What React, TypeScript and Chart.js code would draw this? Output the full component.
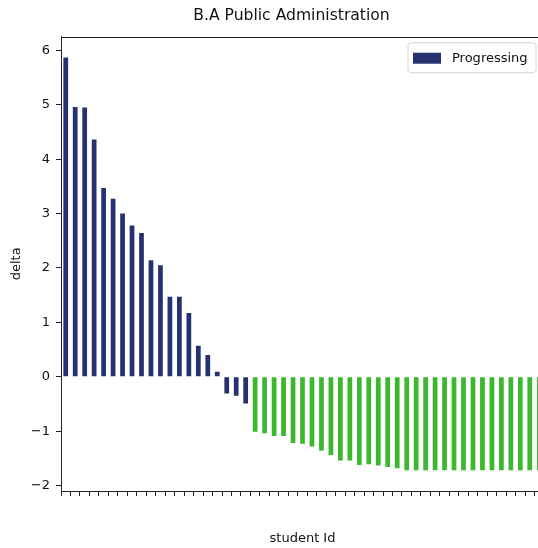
import React, { useEffect, useRef } from 'react';
import { Chart, registerables } from 'chart.js';

Chart.register(...registerables);

const studentIds = [
  '1', '2', '3', '4', '5', '6', '7', '8', '9', '10',
  '11', '12', '13', '14', '15', '16', '17', '18', '19', '20',
  '21', '22', '23', '24', '25', '26', '27', '28', '29', '30',
  '31', '32', '33', '34', '35', '36', '37', '38', '39', '40',
  '41', '42', '43', '44', '45', '46', '47', '48', '49', '50', '51',
];

const progressingDelta = [
  5.87, 4.96, 4.95, 4.36, 3.47, 3.27, 3.0, 2.78, 2.64, 2.14,
  2.05, 1.47, 1.47, 1.17, 0.57, 0.4, 0.09, -0.31, -0.35, -0.49,
];

const regressingDelta = [
  -1.01, -1.04, -1.09, -1.09, -1.22, -1.23, -1.28, -1.36, -1.44, -1.54,
  -1.54, -1.62, -1.61, -1.63, -1.66, -1.68, -1.72, -1.72, -1.72, -1.72,
  -1.72, -1.72, -1.72, -1.72, -1.72, -1.72, -1.72, -1.72, -1.72, -1.72, -1.72,
];

const yTickValues = [-2, -1, 0, 1, 2, 3, 4, 5, 6];

const chartTitle = 'B.A Public Administration';
const xAxisTitle = 'student Id';
const yAxisTitle = 'delta';
const legendLabel = 'Progressing';

const NAVY = '#26326f';
const GREEN = '#3cb82e';
const INK = '#111111';
const FONT = "'DejaVu Sans', 'Liberation Sans', sans-serif";

export default function App() {
  const ref = useRef<HTMLCanvasElement | null>(null);

  useEffect(() => {
    if (!ref.current) return;
    const values = [...progressingDelta, ...regressingDelta];
    const colors = values.map((_, i) => (i < progressingDelta.length ? NAVY : GREEN));

    const framePlugin = {
      id: 'frameAndLegend',
      afterDraw(chart: any) {
        const { ctx, chartArea: a } = chart;
        ctx.save();
        ctx.strokeStyle = '#222222';
        ctx.lineWidth = 1;
        const l = Math.round(a.left) + 0.5;
        const t = Math.round(a.top) + 0.5;
        ctx.strokeRect(l, t, Math.round(a.right - a.left), Math.round(a.bottom - a.top));

        // legend box (inside plot, upper right)
        const bw = 128;
        const bh = 30;
        const bx = a.right - 8 - bw;
        const by = a.top + 6;
        const r = 3;
        ctx.beginPath();
        ctx.moveTo(bx + r, by);
        ctx.lineTo(bx + bw - r, by);
        ctx.quadraticCurveTo(bx + bw, by, bx + bw, by + r);
        ctx.lineTo(bx + bw, by + bh - r);
        ctx.quadraticCurveTo(bx + bw, by + bh, bx + bw - r, by + bh);
        ctx.lineTo(bx + r, by + bh);
        ctx.quadraticCurveTo(bx, by + bh, bx, by + bh - r);
        ctx.lineTo(bx, by + r);
        ctx.quadraticCurveTo(bx, by, bx + r, by);
        ctx.closePath();
        ctx.fillStyle = 'rgba(255,255,255,0.8)';
        ctx.fill();
        ctx.strokeStyle = '#d6d6d6';
        ctx.stroke();

        ctx.fillStyle = NAVY;
        ctx.fillRect(bx + 5, by + 10, 28, 11);

        ctx.fillStyle = INK;
        ctx.font = `13px ${FONT}`;
        ctx.textAlign = 'left';
        ctx.textBaseline = 'middle';
        ctx.fillText(chart.data.datasets[0].label, bx + 44, by + 15.5);
        ctx.restore();
      },
    };

    const chart = new Chart(ref.current, {
      type: 'bar',
      data: {
        labels: studentIds,
        datasets: [
          {
            label: legendLabel,
            data: values,
            backgroundColor: colors,
            borderWidth: 0,
            barPercentage: 0.5,
            categoryPercentage: 1,
          },
        ],
      },
      options: {
        animation: false,
        responsive: false,
        layout: { padding: { left: 0, right: 0, top: 0, bottom: 0 } },
        plugins: {
          legend: { display: false },
          tooltip: { enabled: false },
          title: {
            display: true,
            text: chartTitle,
            color: INK,
            font: { family: FONT, size: 15.6, weight: 'normal' },
            padding: { top: 7, bottom: 11 },
          },
        },
        scales: {
          x: {
            grid: {
              display: true,
              drawOnChartArea: false,
              drawTicks: true,
              tickLength: 5,
              color: '#222222',
            },
            border: { display: true, color: '#222222' },
            ticks: { display: false },
            title: {
              display: true,
              text: xAxisTitle,
              color: INK,
              font: { family: FONT, size: 13 },
              padding: { top: 0, bottom: 1.2 },
            },
            afterFit: (s: any) => {
              s.height = 57;
            },
          },
          y: {
            min: -2.1,
            max: 6.25,
            afterBuildTicks: (s: any) => {
              s.ticks = yTickValues.map((v) => ({ value: v }));
            },
            grid: {
              display: true,
              drawOnChartArea: false,
              drawTicks: true,
              tickLength: 5,
              color: '#222222',
            },
            border: { display: true, color: '#222222' },
            ticks: {
              color: INK,
              font: { family: FONT, size: 13 },
              padding: 6,
              callback: (v: any) => String(v).replace('-', '\u2212'),
            },
            title: {
              display: true,
              text: yAxisTitle,
              color: INK,
              font: { family: FONT, size: 13 },
              padding: { top: 9.2, bottom: 0 },
            },
            afterFit: (s: any) => {
              s.width = 61;
            },
          },
          yRightSpace: {
            position: 'right',
            display: true,
            grid: { display: false },
            border: { display: false },
            ticks: { display: false },
            afterFit: (s: any) => {
              s.width = 39;
            },
          },
        },
      },
      plugins: [framePlugin],
    });

    return () => chart.destroy();
  }, []);

  return (
    <div
      style={{
        position: 'absolute',
        left: 0,
        top: 0,
        width: 538,
        height: 548,
        overflow: 'hidden',
        background: '#ffffff',
      }}
    >
      <canvas ref={ref} width={583} height={548} style={{ display: 'block' }} />
    </div>
  );
}
